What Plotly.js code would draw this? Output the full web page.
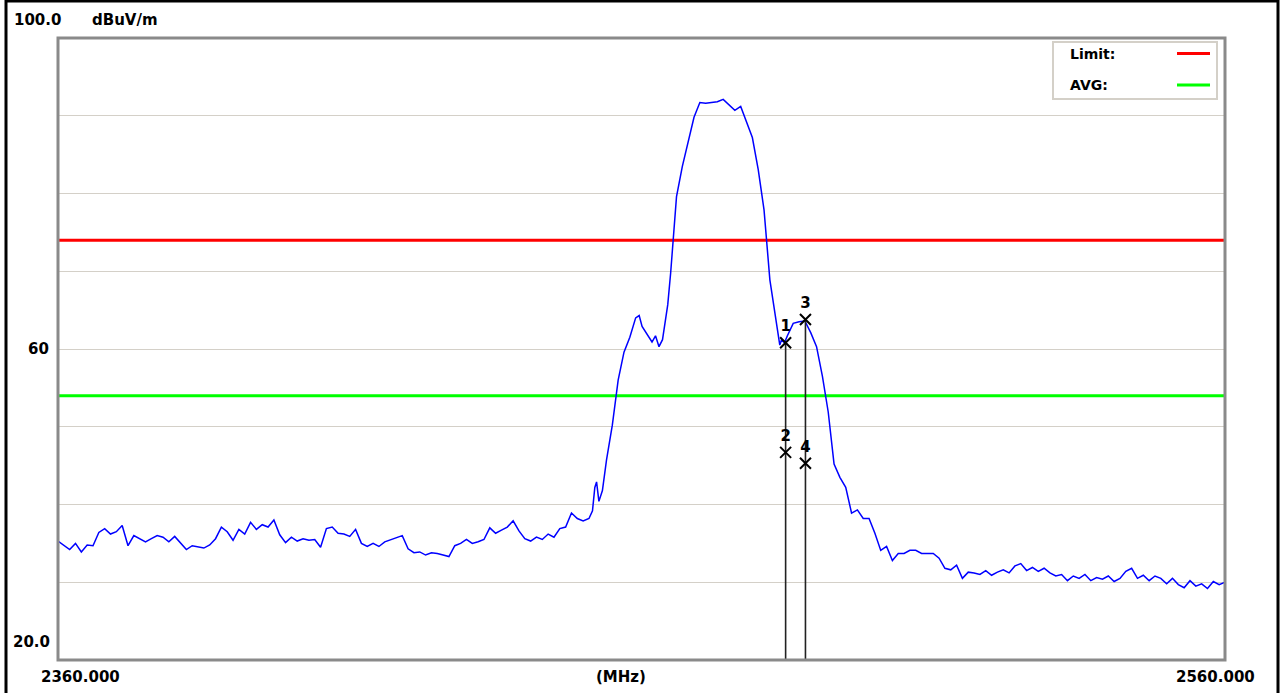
<!DOCTYPE html>
<html>
<head>
<meta charset="utf-8">
<script src="https://cdn.plot.ly/plotly-3.0.1.min.js"></script>
<style>html,body{margin:0;padding:0;background:#fff;}#chart{width:1286px;height:693px;}</style>
</head>
<body>
<div id="chart"></div>
<script>
// Spectrum trace (MHz, dBuV/m)
const freq = [
2360,2361,2362,2363,2364,2365,2366,2367,2368,2369,
2370,2371,2372,2373,2374,2375,2376,2377,2378,2379,
2380,2381,2382,2383,2384,2385,2386,2387,2388,2389,
2390,2391,2392,2393,2394,2395,2396,2397,2398,2399,
2400,2401,2402,2403,2404,2405,2406,2407,2408,2409,
2410,2411,2412,2413,2414,2415,2416,2417,2418,2419,
2420,2421,2422,2423,2424,2425,2426,2427,2428,2429,
2430,2431,2432,2433,2434,2435,2436,2437,2438,2439,
2440,2441,2442,2443,2444,2445,2446,2447,2448,2449,
2450,2451,2451.6,2452,2452.3,2452.7,2453.3,2453.7,2454,2455,
2456,2457,2458,2459,2459.6,2460.1,2461,2461.8,2462.4,2463,
2463.6,2464.2,2464.5,2465,2466,2467,2468,2469,2470,2471,
2472,2473,2474,2475,2476,2477,2478,2479,2480,2481,
2482,2483,2483.7,2484,2484.5,2485,2486,2487,2488,2489,
2490,2491,2492,2493,2494,2495,2496,2497,2498,2499,
2500,2501,2502,2503,2504,2505,2506,2507,2508,2509,
2510,2511,2512,2513,2514,2515,2516,2517,2518,2519,
2520,2521,2522,2523,2524,2525,2526,2527,2528,2529,
2530,2531,2532,2533,2534,2535,2536,2537,2538,2539,
2540,2541,2542,2543,2544,2545,2546,2547,2548,2549,
2550,2551,2552,2553,2554,2555,2556,2557,2558,2559,2560
];
const level = [
35.3,34.8,34.2,35.0,33.9,34.8,34.7,36.4,36.9,36.2,
36.5,37.3,34.7,36.0,35.6,35.2,35.6,36.0,35.8,35.2,
35.9,35.0,34.2,34.7,34.5,34.4,34.8,35.6,37.1,36.5,
35.4,36.8,36.2,37.7,36.8,37.4,37.1,38.0,36.1,35.1,
35.8,35.3,35.6,35.4,35.5,34.5,36.9,37.1,36.3,36.2,
35.9,36.8,35.0,34.6,35.0,34.6,35.2,35.5,35.8,36.0,
34.3,33.8,33.9,33.5,33.8,33.7,33.5,33.3,34.7,35.0,
35.5,35.0,35.2,35.5,37.0,36.3,36.7,37.1,37.9,36.6,
35.6,35.3,35.8,35.5,36.2,35.8,36.9,37.1,38.9,38.2,
37.9,38.2,39.2,42.2,42.9,40.4,41.8,44.1,45.7,50.2,
56.0,59.6,61.5,64.0,64.3,62.9,61.9,60.9,61.7,60.3,
61.2,64.0,65.7,69.8,79.6,83.5,86.8,89.8,91.7,91.6,
91.7,91.8,92.1,91.4,90.7,91.2,89.1,87.2,83.1,77.9,
68.9,63.7,60.5,61.2,60.8,61.7,63.3,63.5,63.6,62.1,
60.3,56.5,51.9,45.2,43.5,42.2,38.9,39.3,38.2,38.2,
36.3,34.1,34.6,32.8,33.7,33.7,34.1,34.1,33.7,33.7,
33.7,33.1,31.8,31.6,32.2,30.5,31.3,31.2,31.0,31.5,
30.9,31.3,31.6,31.2,32.1,32.4,31.5,31.9,31.4,31.8,
31.2,30.8,31.0,30.2,30.8,30.5,31.0,30.2,30.6,30.4,
30.8,30.1,30.5,31.4,31.8,30.5,30.9,30.2,30.8,30.5,
29.8,30.5,29.7,29.3,30.2,29.5,29.8,29.2,30.1,29.7,30.0
];
// Limit lines
const limitLevel = 74;
const avgLevel = 54;
// Markers
const markerFreq = [2484.7, 2484.7, 2488.1, 2488.1];
const markerLevel = [60.8, 46.7, 63.8, 45.3];
const markerLabel = ['1', '2', '3', '4'];
const markerLineIdx = [0, 2];
// Axis info
const xMin = 2360, xMax = 2560, yMin = 20, yMax = 100;
const yTickLabels = ['100.0', '60', '20.0'];
const xTickLabels = ['2360.000', '(MHz)', '2560.000'];
const yUnit = 'dBuV/m';

const FONT = 'DejaVu Sans, Liberation Sans, Arial, sans-serif';

const vx = [], vy = [];
markerLineIdx.forEach(i => { vx.push(markerFreq[i], markerFreq[i], null); vy.push(markerLevel[i], yMin, null); });

const traces = [
  {x: [xMin, xMax], y: [limitLevel, limitLevel], mode: 'lines', line: {color: '#ff0000', width: 3}, hoverinfo: 'skip'},
  {x: [xMin, xMax], y: [avgLevel, avgLevel], mode: 'lines', line: {color: '#00ff00', width: 3}, hoverinfo: 'skip'},
  {x: freq, y: level, mode: 'lines', line: {color: '#0000ff', width: 1.5}},
  {x: vx, y: vy, mode: 'lines', line: {color: '#222222', width: 1.6}, hoverinfo: 'skip'},
  {x: markerFreq, y: markerLevel, mode: 'markers+text', text: markerLabel.map(t => '<b>' + t + '</b>'), textposition: 'top center',
   textfont: {family: FONT, size: 15, color: '#000'},
   marker: {symbol: 'x-thin-open', size: 11, color: '#000', line: {color: '#000', width: 2}}}
];

const px = v => (v - 58) / 1167;
const py = v => (660 - v) / 622;
const bold = (t) => '<b>' + t + '</b>';

const annotations = [
  {xref: 'paper', yref: 'paper', x: px(12), y: py(20), xanchor: 'left', yanchor: 'middle', text: bold(yTickLabels[0]), showarrow: false, font: {family: FONT, size: 15, color: '#000'}},
  {xref: 'paper', yref: 'paper', x: px(90), y: py(20), xanchor: 'left', yanchor: 'middle', text: bold(yUnit), showarrow: false, font: {family: FONT, size: 15, color: '#000'}},
  {xref: 'paper', yref: 'y', x: px(51), y: 60, xanchor: 'right', yanchor: 'middle', text: bold(yTickLabels[1]), showarrow: false, font: {family: FONT, size: 15, color: '#000'}},
  {xref: 'paper', yref: 'paper', x: px(52), y: py(642), xanchor: 'right', yanchor: 'middle', text: bold(yTickLabels[2]), showarrow: false, font: {family: FONT, size: 15, color: '#000'}},
  {xref: 'paper', yref: 'paper', x: px(39), y: py(677), xanchor: 'left', yanchor: 'middle', text: bold(xTickLabels[0]), showarrow: false, font: {family: FONT, size: 15, color: '#000'}},
  {xref: 'paper', yref: 'paper', x: px(620.5), y: py(677), xanchor: 'center', yanchor: 'middle', text: bold(xTickLabels[1]), showarrow: false, font: {family: FONT, size: 15, color: '#000'}},
  {xref: 'paper', yref: 'paper', x: px(1257), y: py(677), xanchor: 'right', yanchor: 'middle', text: bold(xTickLabels[2]), showarrow: false, font: {family: FONT, size: 15, color: '#000'}},
  {xref: 'paper', yref: 'paper', x: px(1068), y: py(53.5), xanchor: 'left', yanchor: 'middle', text: bold('Limit:'), showarrow: false, font: {family: FONT, size: 14, color: '#000'}},
  {xref: 'paper', yref: 'paper', x: px(1068), y: py(85), xanchor: 'left', yanchor: 'middle', text: bold('AVG:'), showarrow: false, font: {family: FONT, size: 14, color: '#000'}}
];

const shapes = [
  {type: 'rect', xref: 'paper', yref: 'paper', x0: 0, x1: 1, y0: 0, y1: 1, line: {color: '#8a8a8a', width: 3}},
  {type: 'rect', xref: 'paper', yref: 'paper', x0: px(1053), x1: px(1217), y0: py(99), y1: py(42), fillcolor: '#ffffff', line: {color: '#d4d0c8', width: 2}},
  {type: 'line', xref: 'paper', yref: 'paper', x0: px(1177), x1: px(1210), y0: py(53.5), y1: py(53.5), line: {color: '#ff0000', width: 3}},
  {type: 'line', xref: 'paper', yref: 'paper', x0: px(1177), x1: px(1210), y0: py(85), y1: py(85), line: {color: '#00ff00', width: 3}},
  {type: 'rect', xref: 'paper', yref: 'paper', x0: px(6), x1: px(1278), y0: py(705), y1: py(1), line: {color: '#000000', width: 3}}
];

const layout = {
  width: 1286, height: 693,
  margin: {l: 58, r: 61, t: 38, b: 33, pad: 0},
  paper_bgcolor: '#ffffff', plot_bgcolor: '#ffffff',
  showlegend: false,
  xaxis: {range: [xMin, xMax], showgrid: false, zeroline: false, showticklabels: false, ticks: '', showline: false},
  yaxis: {range: [yMin, yMax], tick0: 20, dtick: 10, showgrid: true, gridcolor: '#d4d0c8', gridwidth: 1, zeroline: false, showticklabels: false, ticks: '', showline: false},
  annotations: annotations,
  shapes: shapes
};

Plotly.newPlot('chart', traces, layout, {displayModeBar: false, staticPlot: true});
</script>
</body>
</html>
